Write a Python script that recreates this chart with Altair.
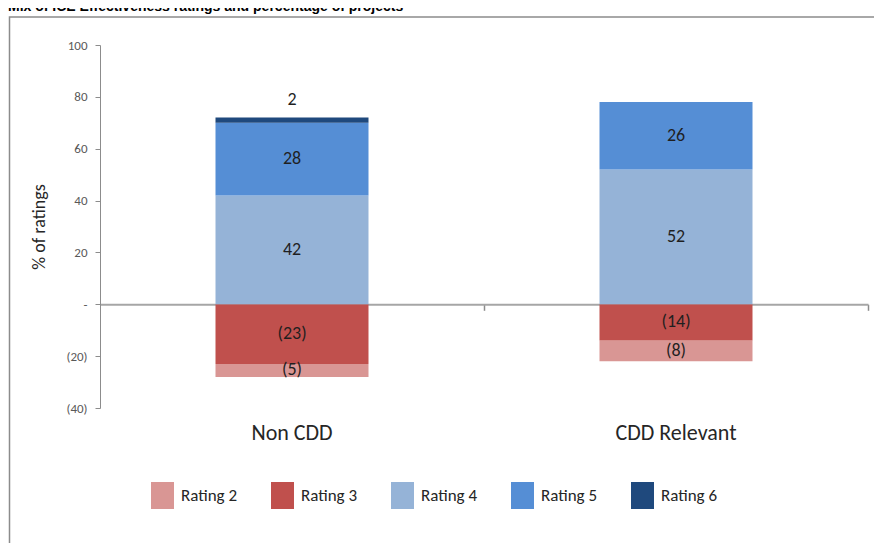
import altair as alt
import pandas as pd

FONT = "Carlito, Lato, sans-serif"

title_text = "Mix of ICE Effectiveness ratings and percentage of projects"
categories = ["Non CDD", "CDD Relevant"]
ratings = ["Rating 2", "Rating 3", "Rating 4", "Rating 5", "Rating 6"]
non_cdd = [-5, -23, 42, 28, 2]
cdd_relevant = [-8, -14, 52, 26, 0]
colors = ["#D99694", "#C0504D", "#95B3D7", "#558ED5", "#1F497D"]
y_ticks = [100, 80, 60, 40, 20, 0, -20, -40]

rows = []
for cat, vals in zip(categories, [non_cdd, cdd_relevant]):
    for r, v in zip(ratings, vals):
        if v != 0:
            rows.append({"category": cat, "rating": r, "value": v})
df = pd.DataFrame(rows)

W, H = 768, 363

base = alt.Chart(df).transform_calculate(
    ord="abs(toNumber(substring(datum.rating, 7)) - 3.5)"
).transform_stack(
    stack="value", groupby=["category"],
    sort=[alt.SortField("ord", order="ascending")], as_=["y0", "y1"]
).transform_calculate(
    mid="(datum.y0 + datum.y1) / 2",
    label="datum.value < 0 ? '(' + abs(datum.value) + ')' : '' + datum.value"
)

x_scale = alt.Scale(domain=categories, paddingInner=0, paddingOuter=0)
y_scale = alt.Scale(domain=[-40, 100], nice=False, zero=False)

x_enc = alt.X(
    "category:N", sort=categories, scale=x_scale,
    axis=alt.Axis(
        title=None, orient="bottom", offset=-(H * 40 / 140), bandPosition=1,
        labelPadding=112, labelAngle=0,
        domainColor="#A6A6A6", domainWidth=2, tickColor="#8C8C8C", tickWidth=1.5,
        tickSize=6, labelFontSize=22, labelColor="#262626", labelFont=FONT,
    ),
)

bars = base.mark_bar(size=153).encode(
    x=x_enc,
    y=alt.Y(
        "y0:Q", scale=y_scale,
        axis=alt.Axis(
            values=y_ticks, title="% of ratings", grid=False,
            labelExpr="datum.value == 0 ? '-' : (datum.value < 0 ? '(' + abs(datum.value) + ')' : '' + datum.value)",
            domainColor="#8C8C8C", tickColor="#8C8C8C", tickSize=5, labelPadding=8,
            labelFontSize=13, labelColor="#595959", labelFont=FONT,
            titleFontSize=18, titleFontWeight="normal", titleColor="#262626",
            titleFont=FONT, titlePadding=17,
        ),
    ),
    y2="y1:Q",
    color=alt.Color(
        "rating:N", scale=alt.Scale(domain=ratings, range=colors),
        legend=alt.Legend(
            title=None, orient="none", legendX=49, legendY=437,
            direction="horizontal", columns=5,
            symbolType="M-0.85,-1L0.85,-1L0.85,1L-0.85,1Z", symbolSize=729,
            symbolStrokeWidth=0, symbolOpacity=1,
            labelFontSize=17, labelFont=FONT, labelColor="#262626",
            labelOffset=5, columnPadding=31,
        ),
    ),
)

seg_labels = base.transform_filter("datum.rating != 'Rating 6'").mark_text(
    fontSize=18, font=FONT, color="#1F1F1F"
).encode(x=alt.X("category:N", sort=categories, scale=x_scale), y=alt.Y("mid:Q", scale=y_scale), text="label:N")

top_labels = base.transform_filter("datum.rating == 'Rating 6'").mark_text(
    fontSize=18, font=FONT, color="#1F1F1F", dy=-18
).encode(x=alt.X("category:N", sort=categories, scale=x_scale), y=alt.Y("y1:Q", scale=y_scale), text="label:N")

frame = alt.Chart(alt.Data(values=[{}])).mark_rect(
    fillOpacity=0, stroke="#8C8C8C", strokeWidth=1.5
).encode(x=alt.value(-90.5), x2=alt.value(1200), y=alt.value(-28), y2=alt.value(900))

title = alt.Chart(alt.Data(values=[{}])).mark_text(
    text=title_text, align="left", baseline="alphabetic",
    font="Liberation Sans", fontWeight="bold", fontSize=14, color="#000000"
).encode(x=alt.value(-92), y=alt.value(-34))

chart = alt.layer(frame, title, bars, seg_labels, top_labels).properties(
    width=W, height=H,
    padding={"left": 92, "top": 37, "right": 6, "bottom": 135},
    autosize=alt.AutoSizeParams(type="none"),
).configure(background="#FFFFFF").configure_view(stroke=None)

chart.save("out.html", embed_options={"renderer": "svg", "actions": False})
